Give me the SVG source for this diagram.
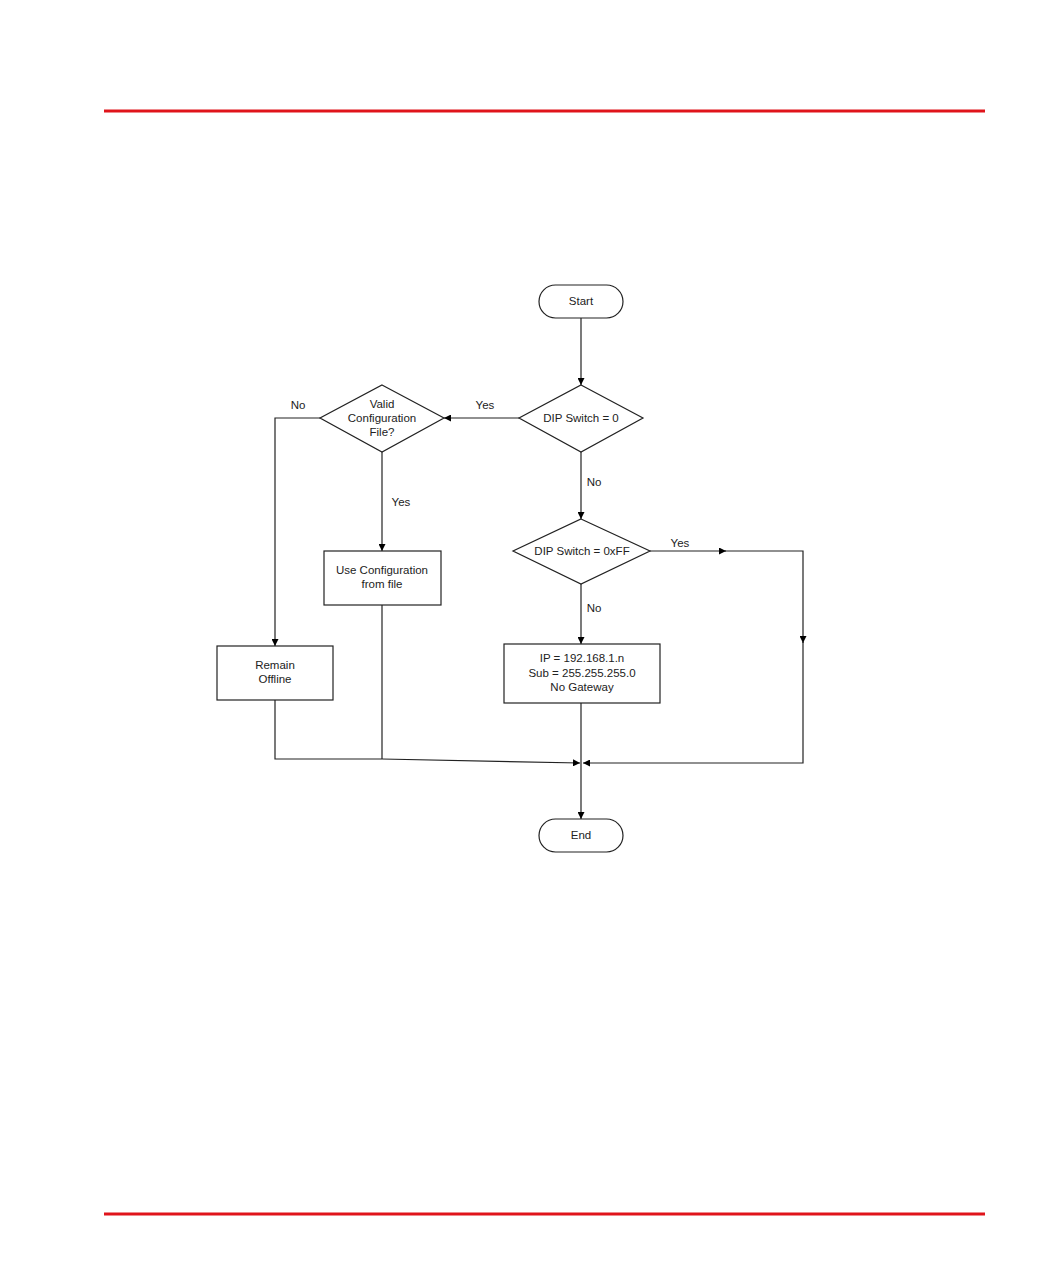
<svg xmlns="http://www.w3.org/2000/svg" width="1060" height="1288" viewBox="0 0 1060 1288">
<defs>
<marker id="ah" viewBox="0 0 10 10" refX="10" refY="5" markerWidth="7" markerHeight="7" markerUnits="userSpaceOnUse" orient="auto"><path d="M0,0 L10,5 L0,10 z" fill="#000"/></marker>
</defs>
<style>
.shape{fill:#fff;stroke:#222;stroke-width:1.2}
.c{fill:none;stroke:#222;stroke-width:1.2}
.t{font-family:"Liberation Sans",Arial,sans-serif;font-size:11.5px;fill:#222;text-anchor:middle}
.rule{stroke:#e0141b;stroke-width:3}
</style>
<rect width="1060" height="1288" fill="#fff"/>
<line class="rule" x1="104" y1="111" x2="985" y2="111"/>
<line class="rule" x1="104" y1="1214" x2="985" y2="1214"/>
<g id="connectors">
<path class="c" d="M581,318 V385" marker-end="url(#ah)"/>
<path class="c" d="M519,418 H444" marker-end="url(#ah)"/>
<path class="c" d="M320,418 H275 V646" marker-end="url(#ah)"/>
<path class="c" d="M382,452 V551" marker-end="url(#ah)"/>
<path class="c" d="M382,605 V759"/>
<path class="c" d="M581,452 V519" marker-end="url(#ah)"/>
<path class="c" d="M650,551 H726" marker-end="url(#ah)"/>
<path class="c" d="M724,551 H803 V643" marker-end="url(#ah)"/>
<path class="c" d="M803,641 V763 H583" marker-end="url(#ah)"/>
<path class="c" d="M581,584 V644" marker-end="url(#ah)"/>
<path class="c" d="M581,703 V819" marker-end="url(#ah)"/>
<path class="c" d="M275,700 V759 H382 L580,763" marker-end="url(#ah)"/>
<text class="t" x="485" y="409">Yes</text>
<text class="t" x="298" y="409">No</text>
<text class="t" x="401" y="506">Yes</text>
<text class="t" x="594" y="486">No</text>
<text class="t" x="680" y="547">Yes</text>
<text class="t" x="594" y="612">No</text>
</g>
<g id="start">
<rect class="shape" x="539" y="285" width="84" height="33" rx="16.5"/>
<text class="t" x="581" y="305">Start</text>
</g>
<g id="dip0">
<polygon class="shape" points="581,385 643,418 581,452 519,418"/>
<text class="t" x="581" y="422">DIP Switch = 0</text>
</g>
<g id="valid">
<polygon class="shape" points="382,385 444,418 382,452 320,418"/>
<text class="t" x="382" y="408">Valid</text>
<text class="t" x="382" y="422">Configuration</text>
<text class="t" x="382" y="436">File?</text>
</g>
<g id="useconfig">
<rect class="shape" x="324" y="551" width="117" height="54"/>
<text class="t" x="382" y="574">Use Configuration</text>
<text class="t" x="382" y="588">from file</text>
</g>
<g id="remain">
<rect class="shape" x="217" y="646" width="116" height="54"/>
<text class="t" x="275" y="669">Remain</text>
<text class="t" x="275" y="683">Offline</text>
</g>
<g id="dipff">
<polygon class="shape" points="581,519 650,551 581,584 513,551"/>
<text class="t" x="582" y="555">DIP Switch = 0xFF</text>
</g>
<g id="ipbox">
<rect class="shape" x="504" y="644" width="156" height="59"/>
<text class="t" x="582" y="662">IP = 192.168.1.n</text>
<text class="t" x="582" y="677">Sub = 255.255.255.0</text>
<text class="t" x="582" y="691">No Gateway</text>
</g>
<g id="end">
<rect class="shape" x="539" y="819" width="84" height="33" rx="16.5"/>
<text class="t" x="581" y="839">End</text>
</g>
</svg>
